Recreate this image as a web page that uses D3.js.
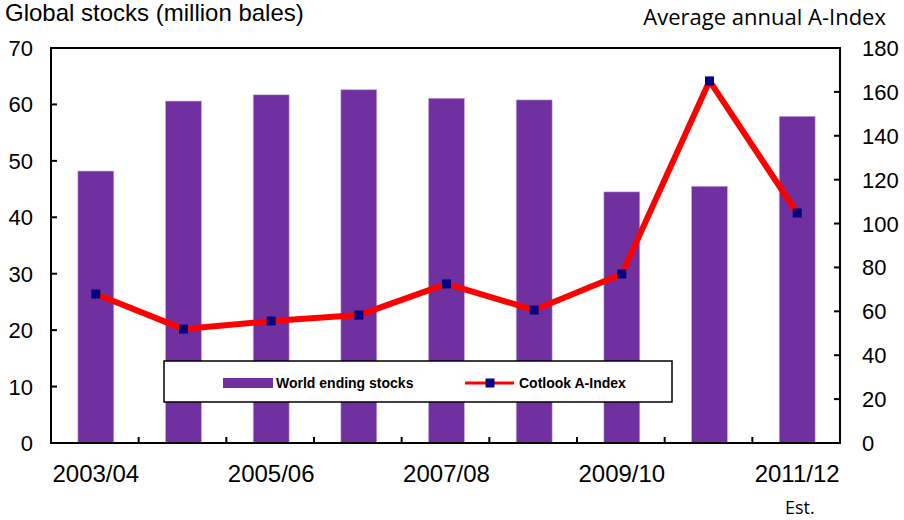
<!DOCTYPE html>
<html>
<head>
<meta charset="utf-8">
<script src="https://cdn.jsdelivr.net/npm/d3@7"></script>
<style>
  html, body { margin: 0; padding: 0; background: #fff; }
  svg { display: block; }
</style>
</head>
<body>
<div id="chart"></div>
<script>
// seasons on the x axis
const seasons = ['2003/04', '2004/05', '2005/06', '2006/07', '2007/08', '2008/09', '2009/10', '2010/11', '2011/12'];
// world ending stocks, million bales (left axis)
const stocks = [48.2, 60.6, 61.7, 62.6, 61.1, 60.8, 44.5, 45.5, 57.9];
// Cotlook A-Index, annual average (right axis)
const aIndex = [67.9, 51.9, 55.6, 58.3, 72.5, 60.6, 77.0, 165.0, 104.8];
const leftTicks = [0, 10, 20, 30, 40, 50, 60, 70];
const rightTicks = [0, 20, 40, 60, 80, 100, 120, 140, 160, 180];
const shownLabels = ['2003/04', '2005/06', '2007/08', '2009/10', '2011/12'];

const W = 904, H = 520;
const m = { left: 51, right: 840, top: 48, bottom: 443 };

const svg = d3.select('#chart').append('svg')
  .attr('width', W)
  .attr('height', H);

const x = d3.scaleBand()
  .domain(seasons)
  .range([m.left + 1, m.right + 1])
  .paddingInner(0.59)
  .paddingOuter(0.295);

const yL = d3.scaleLinear().domain([0, 70]).range([m.bottom, m.top]);
const yR = d3.scaleLinear().domain([0, 180]).range([m.bottom, m.top]);

// bars
svg.selectAll('.bar')
  .data(seasons)
  .enter()
  .append('rect')
  .attr('class', 'bar')
  .attr('x', d => x(d))
  .attr('width', x.bandwidth())
  .attr('y', (d, i) => yL(stocks[i]))
  .attr('height', (d, i) => m.bottom - yL(stocks[i]))
  .attr('fill', '#7030a0')
  .attr('stroke', '#c9b3dc')
  .attr('stroke-width', 0.6);

// frame
svg.append('rect')
  .attr('x', m.left).attr('y', m.top)
  .attr('width', m.right - m.left).attr('height', m.bottom - m.top)
  .attr('fill', 'none').attr('stroke', '#000').attr('stroke-width', 2);

// left ticks (inside)
leftTicks.forEach(t => {
  svg.append('line')
    .attr('x1', m.left).attr('x2', m.left + 6)
    .attr('y1', yL(t)).attr('y2', yL(t))
    .attr('stroke', '#000').attr('stroke-width', 2);
  svg.append('text')
    .attr('x', 33).attr('y', yL(t) + 8)
    .attr('text-anchor', 'end')
    .attr('font-family', 'Liberation Sans, Arial, sans-serif')
    .attr('font-size', 22)
    .text(t);
});

// right ticks (inside)
rightTicks.forEach(t => {
  svg.append('line')
    .attr('x1', m.right - 6).attr('x2', m.right)
    .attr('y1', yR(t)).attr('y2', yR(t))
    .attr('stroke', '#000').attr('stroke-width', 2);
  svg.append('text')
    .attr('x', 862).attr('y', yR(t) + 8)
    .attr('font-family', 'Liberation Sans, Arial, sans-serif')
    .attr('font-size', 22)
    .text(t);
});

// bottom ticks at category boundaries
d3.range(1, seasons.length).forEach(i => {
  const bx = m.left + i * x.step();
  svg.append('line')
    .attr('x1', bx).attr('x2', bx)
    .attr('y1', m.bottom).attr('y2', m.bottom - 6)
    .attr('stroke', '#000').attr('stroke-width', 2);
});

// x labels (every other season)
svg.selectAll('.xlab')
  .data(shownLabels)
  .enter()
  .append('text')
  .attr('class', 'xlab')
  .attr('x', d => x(d) + x.bandwidth() / 2)
  .attr('y', 482)
  .attr('text-anchor', 'middle')
  .attr('font-family', 'Liberation Sans, Arial, sans-serif')
  .attr('font-size', 24)
  .text(d => d);

// Cotlook A-Index line
const line = d3.line()
  .x((d, i) => x(seasons[i]) + x.bandwidth() / 2)
  .y(d => yR(d));

svg.append('path')
  .datum(aIndex)
  .attr('d', line)
  .attr('fill', 'none')
  .attr('stroke', '#ff0000')
  .attr('stroke-width', 6)
  .attr('stroke-linejoin', 'round');

svg.selectAll('.mk')
  .data(aIndex)
  .enter()
  .append('rect')
  .attr('class', 'mk')
  .attr('x', (d, i) => x(seasons[i]) + x.bandwidth() / 2 - 4.5)
  .attr('y', d => yR(d) - 4.5)
  .attr('width', 9).attr('height', 9)
  .attr('fill', '#000080');

// legend
const lg = svg.append('g');
lg.append('rect')
  .attr('x', 164).attr('y', 361)
  .attr('width', 508).attr('height', 41)
  .attr('fill', '#fff').attr('stroke', '#000').attr('stroke-width', 1.5);
lg.append('rect')
  .attr('x', 223).attr('y', 378)
  .attr('width', 50).attr('height', 10)
  .attr('fill', '#7030a0');
lg.append('text')
  .attr('x', 276).attr('y', 388)
  .attr('font-family', 'Liberation Sans, Arial, sans-serif')
  .attr('font-weight', 'bold')
  .attr('font-size', 14)
  .text('World ending stocks');
lg.append('line')
  .attr('x1', 465).attr('x2', 514)
  .attr('y1', 383).attr('y2', 383)
  .attr('stroke', '#ff0000').attr('stroke-width', 3);
lg.append('rect')
  .attr('x', 485.5).attr('y', 378.5)
  .attr('width', 9).attr('height', 9)
  .attr('fill', '#000080');
lg.append('text')
  .attr('x', 519).attr('y', 388)
  .attr('font-family', 'Liberation Sans, Arial, sans-serif')
  .attr('font-weight', 'bold')
  .attr('font-size', 14)
  .text('Cotlook A-Index');

// titles
svg.append('text')
  .attr('x', 5).attr('y', 21)
  .attr('font-family', 'Liberation Sans, Arial, sans-serif')
  .attr('font-size', 24)
  .text('Global stocks (million bales)');

svg.append('text')
  .attr('x', 886).attr('y', 25)
  .attr('text-anchor', 'end')
  .attr('font-family', 'Open Sans, sans-serif')
  .attr('font-size', 22)
  .text('Average annual A-Index');

svg.append('text')
  .attr('x', 785).attr('y', 514)
  .attr('font-family', 'Open Sans, sans-serif')
  .attr('font-size', 18)
  .text('Est.');
</script>
</body>
</html>
